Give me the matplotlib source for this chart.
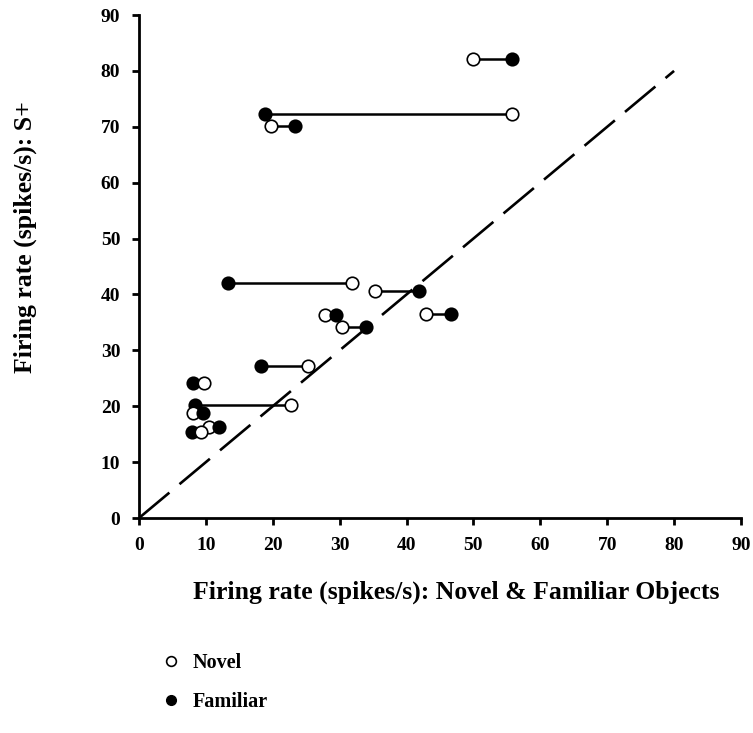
import matplotlib
matplotlib.use("Agg")
import matplotlib.pyplot as plt
from matplotlib.lines import Line2D

# firing rates (spikes/s)
novel = [49.9, 55.8, 19.8, 31.8, 35.3, 27.8, 30.4, 42.9, 25.3, 9.7, 22.8, 8.0, 9.3, 10.4]
familiar = [55.8, 18.8, 23.3, 13.3, 41.8, 29.5, 33.9, 46.7, 18.2, 8.0, 8.3, 9.5, 7.9, 12.0]
s_plus = [82.1, 72.3, 70.2, 42.1, 40.7, 36.3, 34.2, 36.5, 27.2, 24.1, 20.3, 18.8, 15.4, 16.2]
diag = [0, 80]
ticks = list(range(0, 100, 10))

plt.rcParams['font.family'] = ['Liberation Serif', 'DejaVu Serif']
plt.rcParams['font.weight'] = 'bold'

fig = plt.figure(figsize=(7.53, 7.33), dpi=100)
ax = fig.add_axes([0.1846, 0.2933, 0.7994, 0.6862])

# unity line
ax.plot(diag, diag, color='black', lw=1.9, linestyle=(0, (15, 5)), zorder=1)

for n, f, y in zip(novel, familiar, s_plus):
    ax.plot([n, f], [y, y], color='black', lw=1.8, zorder=2)
    pts = sorted([(n, 'white'), (f, 'black')])
    for i, (x, fc) in enumerate(pts):
        ax.plot(x, y, 'o', ms=9, mfc=fc, mec='black', mew=1.2, zorder=3 + i)

ax.set_xlim(0, 90)
ax.set_ylim(0, 90)
ax.set_xticks(ticks)
ax.set_yticks(ticks)
ax.spines['top'].set_visible(False)
ax.spines['right'].set_visible(False)
ax.spines['left'].set_linewidth(2)
ax.spines['bottom'].set_linewidth(2)
ax.tick_params(width=2, length=5, labelsize=14, pad=8.5)
for lab in ax.get_xticklabels() + ax.get_yticklabels():
    lab.set_fontweight('bold')

ax.set_xlabel('Firing rate (spikes/s): Novel & Familiar Objects', fontsize=18.5, fontweight='bold')
ax.set_ylabel('Firing rate (spikes/s): S+', fontsize=18.5, fontweight='bold')
ax.xaxis.set_label_coords(0.527, -0.125)
ax.yaxis.set_label_coords(-0.169, 0.559)

handles = [Line2D([], [], ls='none', marker='o', ms=7, mfc='white', mec='black', mew=1.2),
           Line2D([], [], ls='none', marker='o', ms=7, mfc='black', mec='black')]
fig.legend(handles, ['Novel', 'Familiar'], loc='upper left', bbox_to_anchor=(0.189, 0.134),
           frameon=False, prop={'weight': 'bold', 'size': 14.5}, handletextpad=0.6,
           labelspacing=0.94, handlelength=1.0)

fig.savefig('out.png', dpi=100)
